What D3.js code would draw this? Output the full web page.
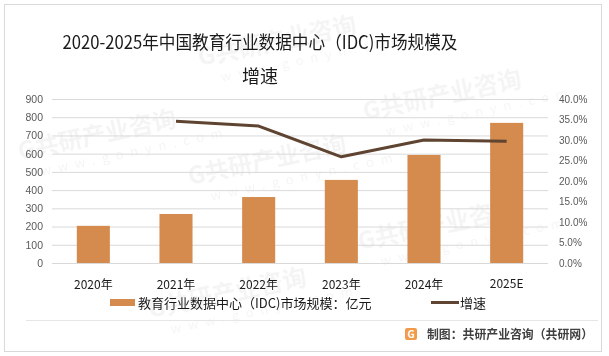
<!DOCTYPE html>
<html><head><meta charset="utf-8">
<script src="https://cdn.jsdelivr.net/npm/d3@7"></script>
<style>
html,body{margin:0;padding:0;background:#fff;}
svg{display:block;font-family:"Noto Sans CJK SC","Noto Sans",sans-serif;}
</style></head>
<body>
<svg id="c" width="609" height="356"></svg>
<script>
const categories = ["2020年","2021年","2022年","2023年","2024年","2025E"];
const marketSize = [204, 269, 362, 456, 593, 769];
const growth = [null, 34.6, 33.4, 25.9, 30.0, 29.7];
const leftTicks = [0,100,200,300,400,500,600,700,800,900];
const rightTicks = [0,5,10,15,20,25,30,35,40];
const titleLines = ["2020-2025年中国教育行业数据中心（IDC)市场规模及","增速"];
const legendLabels = ["教育行业数据中心（IDC)市场规模：亿元","增速"];
const sourceText = "制图：共研产业咨询（共研网）";

const svg = d3.select("#c");
const barColor = "#D48B4D", lineColor = "#5F4431";

// frame
svg.append("rect").attr("x",4.5).attr("y",4.5).attr("width",597).attr("height",347)
  .attr("fill","#fff").attr("stroke","#d9d9d9");

// watermarks (faint)
const wm = svg.append("g").attr("opacity",0.045);
const wmPos = [[200,66],[365,120],[20,160],[190,185],[360,250],[150,318]];
wmPos.forEach(([x,y])=>{
  const g = wm.append("g").attr("transform",`translate(${x},${y}) rotate(-12)`);
  g.append("text").attr("font-size",24).attr("font-weight","bold").attr("fill","#000").text("G共研产业咨询");
  g.append("text").attr("y",20).attr("x",18).attr("font-size",13).attr("fill","#000").attr("letter-spacing",7).text("www.gonyn.com");
});

// title
svg.append("text").attr("x",260).attr("y",49).attr("text-anchor","middle")
  .attr("font-size",18).attr("fill","#1a1a1a").attr("textLength",395).attr("lengthAdjust","spacingAndGlyphs")
  .text(titleLines[0]);
svg.append("text").attr("x",260).attr("y",83).attr("text-anchor","middle")
  .attr("font-size",18).attr("fill","#1a1a1a").text(titleLines[1]);

// scales
const x = d3.scaleBand().domain(categories).range([52,548]).paddingInner(0.6).paddingOuter(0.3);
const y = d3.scaleLinear().domain([0,900]).range([263,99]);
const y2 = d3.scaleLinear().domain([0,40]).range([263,99]);

// grid
svg.append("g").selectAll("line").data(leftTicks).join("line")
  .attr("x1",52).attr("x2",548).attr("y1",d=>y(d)+0.5).attr("y2",d=>y(d)+0.5)
  .attr("stroke","#d9d9d9").attr("stroke-width",1);

// left axis
const la = svg.append("g").attr("transform","translate(52,0)")
  .call(d3.axisLeft(y).tickValues(leftTicks).tickSize(0).tickPadding(9));
la.select(".domain").remove();
la.selectAll("text").attr("font-size",10.5).attr("fill","#595959").attr("font-family","Liberation Sans, Arial, sans-serif");

// right axis
const ra = svg.append("g").attr("transform","translate(548,0)")
  .call(d3.axisRight(y2).tickValues(rightTicks).tickSize(0).tickPadding(11).tickFormat(d=>d.toFixed(1)+"%"));
ra.select(".domain").remove();
ra.selectAll("text").attr("font-size",10).attr("fill","#595959").attr("font-family","Liberation Sans, Arial, sans-serif");

// bars
svg.append("g").selectAll("rect").data(marketSize).join("rect")
  .attr("x",(d,i)=>x(categories[i])).attr("width",x.bandwidth())
  .attr("y",d=>y(d)).attr("height",d=>y(0)-y(d)).attr("fill",barColor);

// x labels
svg.append("g").selectAll("text").data(categories).join("text")
  .attr("x",d=>x(d)+x.bandwidth()/2).attr("y",d=>d.endsWith("E")?288:289)
  .attr("text-anchor","middle").attr("font-size",12).attr("fill","#1a1a1a").text(d=>d);

// line
const pts = growth.map((v,i)=>({c:categories[i],v})).filter(d=>d.v!=null);
svg.append("path").datum(pts)
  .attr("d",d3.line().x(d=>x(d.c)+x.bandwidth()/2).y(d=>y2(d.v)))
  .attr("fill","none").attr("stroke",lineColor).attr("stroke-width",3).attr("stroke-linejoin","round");

// legend
svg.append("rect").attr("x",110).attr("y",299).attr("width",25).attr("height",7).attr("fill",barColor);
svg.append("text").attr("x",138).attr("y",307.5).attr("font-size",13).attr("fill","#1a1a1a").text(legendLabels[0]);
svg.append("line").attr("x1",431).attr("x2",459).attr("y1",302.5).attr("y2",302.5).attr("stroke",lineColor).attr("stroke-width",3);
svg.append("text").attr("x",460).attr("y",307.5).attr("font-size",13).attr("fill","#1a1a1a").text(legendLabels[1]);

// separator
svg.append("line").attr("x1",26).attr("x2",598).attr("y1",320.5).attr("y2",320.5).attr("stroke","#e6e6e6");

// footer logo
const lg = svg.append("g").attr("transform","translate(405,328)");
lg.append("rect").attr("width",12).attr("height",12).attr("rx",2).attr("fill","#F39A4A");
lg.append("text").attr("x",6).attr("y",10).attr("text-anchor","middle").attr("font-size",10).attr("font-weight","bold").attr("fill","#fff").text("G");
svg.append("text").attr("x",427).attr("y",338.5).attr("font-size",12).attr("font-weight","bold").attr("fill","#404040")
  .attr("textLength",166).attr("lengthAdjust","spacingAndGlyphs").text(sourceText);
</script>
</body></html>
